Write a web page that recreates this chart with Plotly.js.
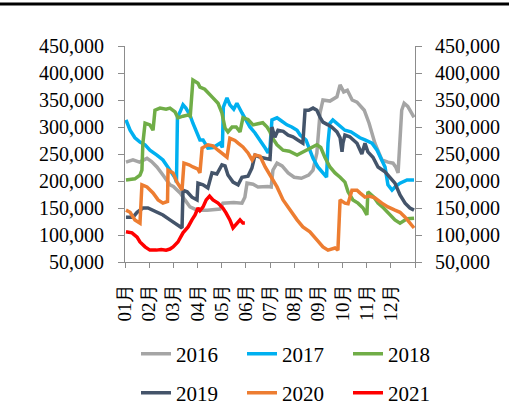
<!DOCTYPE html>
<html><head><meta charset="utf-8">
<script src="https://cdn.plot.ly/plotly-3.0.1.min.js"></script>
<style>html,body{margin:0;padding:0;background:#fff}#chart{width:509px;height:406px}</style>
</head><body><div id="chart"></div>
<script>
const monthLabels = ["01月","02月","03月","04月","05月","06月","07月","08月","09月","10月","11月","12月"];
const seriesNames = ["2016","2017","2018","2019","2020","2021"];

// x positions in months from 1 Jan (0 = start of January)
const m2016 = [0.04,0.33,0.6,0.91,1.1,1.32,1.57,1.86,2.0,2.28,2.48,2.69,2.98,3.4,3.93,4.05,4.5,4.84,4.96,5.05,5.3,5.5,5.9,6.05,6.12,6.29,6.5,6.75,7.0,7.3,7.6,7.78,7.94,8.07,8.19,8.48,8.77,8.9,9.05,9.2,9.4,9.6,9.9,10.1,10.34,10.63,10.88,11.09,11.2,11.3,11.45,11.55,11.7,11.96];
const v2016 = [235000,239000,235000,242000,236000,226000,211000,193000,190000,178000,165000,152000,146000,146000,148000,159000,160000,159000,170000,196000,194000,189000,190000,189000,220000,233000,228000,215000,207000,205000,211000,220000,252000,326000,350000,348000,356000,378000,365000,368000,350000,346000,331000,307000,270000,239000,235000,233000,226000,215000,331000,344000,338000,318000];

const m2017 = [0.04,0.21,0.41,0.62,0.83,1.03,1.32,1.57,1.86,2.07,2.13,2.17,2.28,2.40,2.52,2.69,2.81,2.98,3.10,3.23,3.43,3.65,3.93,4.03,4.07,4.22,4.34,4.50,4.63,4.84,5.00,5.17,5.38,5.59,5.80,5.92,6.00,6.08,6.29,6.45,6.70,6.90,7.12,7.25,7.49,7.65,7.78,7.98,8.19,8.34,8.40,8.48,8.60,8.81,8.98,9.10,9.35,9.52,9.72,9.93,10.22,10.43,10.63,10.76,10.88,11.05,11.20,11.38,11.67,11.96];
const v2017 = [313000,294000,280000,272000,267000,257000,248000,239000,220000,206000,198000,318000,328000,341000,335000,322000,307000,291000,276000,276000,261000,262000,270000,262000,337000,354000,341000,333000,344000,326000,312000,300000,289000,276000,261000,252000,262000,313000,317000,312000,304000,300000,294000,285000,276000,257000,242000,226000,215000,207000,270000,307000,313000,305000,298000,294000,291000,285000,280000,276000,270000,257000,239000,226000,193000,183000,190000,196000,202000,202000];

const m2018 = [0.04,0.41,0.62,0.70,0.74,0.83,1.03,1.16,1.24,1.45,1.70,1.86,2.07,2.19,2.40,2.60,2.70,2.77,2.81,3.02,3.10,3.30,3.43,3.64,3.85,4.01,4.14,4.26,4.43,4.60,4.76,4.88,5.09,5.30,5.50,5.70,5.88,6.00,6.08,6.29,6.54,6.80,7.12,7.36,7.74,7.94,8.10,8.27,8.48,8.69,8.90,9.10,9.23,9.43,9.64,9.85,10.01,10.05,10.30,10.47,10.70,10.88,11.17,11.38,11.67,11.96];
const v2018 = [202000,204000,211000,220000,270000,307000,304000,294000,331000,335000,333000,335000,328000,317000,320000,322000,320000,381000,387000,381000,374000,370000,363000,354000,344000,326000,298000,291000,300000,300000,291000,317000,314000,304000,306000,308000,300000,291000,281000,267000,257000,255000,248000,254000,263000,267000,262000,244000,226000,215000,207000,198000,180000,165000,159000,150000,137000,180000,170000,159000,150000,141000,128000,122000,130000,131000];

const m2019 = [0.04,0.33,0.50,0.74,0.95,1.32,1.57,1.86,2.15,2.36,2.40,2.57,2.77,2.98,3.02,3.23,3.43,3.60,3.80,4.01,4.14,4.26,4.47,4.68,4.84,5.09,5.25,5.38,5.60,5.80,6.00,6.08,6.20,6.33,6.55,6.75,6.95,7.15,7.36,7.45,7.60,7.78,7.94,8.07,8.19,8.40,8.55,8.77,8.90,8.98,9.02,9.10,9.30,9.60,9.72,9.80,9.93,10.05,10.26,10.47,10.76,10.96,11.17,11.38,11.59,11.79,11.96];
const v2019 = [133000,133000,142000,150000,150000,142000,137000,128000,119000,113000,183000,180000,170000,165000,196000,193000,187000,215000,213000,230000,228000,211000,198000,193000,207000,209000,224000,248000,244000,242000,240000,300000,281000,294000,292000,285000,282000,276000,270000,331000,331000,335000,331000,318000,309000,304000,300000,291000,280000,254000,270000,285000,282000,270000,260000,250000,270000,254000,244000,226000,217000,207000,196000,174000,159000,150000,146000];

const m2020 = [0.04,0.21,0.41,0.62,0.70,0.91,1.16,1.37,1.57,1.76,1.78,1.99,2.15,2.28,2.36,2.44,2.65,2.81,3.02,3.10,3.19,3.43,3.64,3.85,4.01,4.22,4.34,4.55,4.68,4.88,5.09,5.26,5.38,5.59,5.80,6.00,6.12,6.29,6.54,6.82,7.12,7.36,7.65,7.94,8.19,8.40,8.69,8.81,8.90,9.10,9.23,9.39,9.60,9.72,9.93,10.10,10.34,10.63,10.88,11.17,11.38,11.59,11.79,11.96];
const v2020 = [146000,142000,128000,122000,193000,189000,178000,165000,159000,162000,220000,215000,198000,189000,183000,233000,230000,226000,222000,215000,261000,267000,265000,257000,252000,244000,279000,275000,270000,263000,252000,239000,248000,246000,226000,211000,202000,189000,165000,146000,128000,115000,106000,91000,78000,72000,76000,72000,165000,159000,158000,183000,183000,178000,170000,172000,169000,159000,152000,146000,142000,133000,122000,113000];

const m2021 = [0.04,0.29,0.50,0.62,0.83,1.03,1.30,1.50,1.70,1.86,1.99,2.19,2.40,2.61,2.77,2.90,3.02,3.10,3.23,3.36,3.50,3.64,3.85,4.05,4.18,4.34,4.47,4.59,4.76,4.88,4.96];
const v2021 = [106000,104000,96000,87000,78000,72000,72000,73000,72000,74000,78000,87000,104000,115000,128000,137000,150000,145000,152000,165000,172000,165000,159000,150000,141000,128000,113000,119000,128000,122000,122000];

const xs = [m2016,m2017,m2018,m2019,m2020,m2021];
const ys = [v2016,v2017,v2018,v2019,v2020,v2021];
const colors = ["#A5A5A5","#00B0F0","#70AD47","#44546A","#ED7D31","#FF0000"];

const serif = '"Liberation Serif","Times New Roman",serif';
const axisColor = '#8c8c8c';

const traces = seriesNames.map((name,i)=>({
  type:'scatter', mode:'lines', name:name,
  x:xs[i], y:ys[i],
  line:{color:colors[i], width:3.5},
  legend: i<3 ? 'legend' : 'legend2',
  hoverinfo:'skip'
}));
traces.push({type:'scatter', mode:'lines', x:[], y:[], yaxis:'y2', showlegend:false, hoverinfo:'skip'});

const yCommon = {
  range:[50000,450000], tick0:50000, dtick:50000, tickformat:',d',
  ticks:'outside', ticklen:6, tickcolor:axisColor, showline:true, linecolor:axisColor, linewidth:1,
  showgrid:false, zeroline:false, tickfont:{family:serif, size:20, color:'#000'}, fixedrange:true
};

const legendCommon = {
  orientation:'h', xref:'paper', yref:'paper', xanchor:'right', yanchor:'middle',
  entrywidth:61, entrywidthmode:'pixels', font:{family:serif, size:21, color:'#000'},
  bgcolor:'rgba(0,0,0,0)', borderwidth:0, itemclick:false, itemdoubleclick:false
};

const layout = {
  width:509, height:406,
  margin:{l:125, r:94, t:46, b:144, autoexpand:false},
  paper_bgcolor:'#fff', plot_bgcolor:'#fff',
  showlegend:true,
  xaxis:{
    range:[0,12], tickmode:'array', tickvals:[0,1,2,3,4,5,6,7,8,9,10,11,12], ticktext:monthLabels.concat(['']),
    tickangle:-90, ticks:'outside', ticklen:5, tickcolor:axisColor, showline:true, linecolor:axisColor,
    showgrid:false, zeroline:false, tickfont:{family:serif, size:19, color:'#000'}, ticklabelstandoff:8, fixedrange:true
  },
  yaxis:Object.assign({}, yCommon, {ticklabelstandoff:10}),
  yaxis2:Object.assign({}, yCommon, {overlaying:'y', side:'right', anchor:'x', ticklabelstandoff:9}),
  legend:Object.assign({}, legendCommon, {x:(454-125)/290, y:(262-354)/216}),
  legend2:Object.assign({}, legendCommon, {x:(454-125)/290, y:(262-393)/216}),
  shapes:[{type:'line', xref:'paper', yref:'paper', x0:-125/290, x1:384/290, y0:(262-4)/216, y1:(262-4)/216, line:{color:'#000', width:3}}]
};

Plotly.newPlot('chart', traces, layout, {displayModeBar:false, staticPlot:true});
</script>
</body></html>
